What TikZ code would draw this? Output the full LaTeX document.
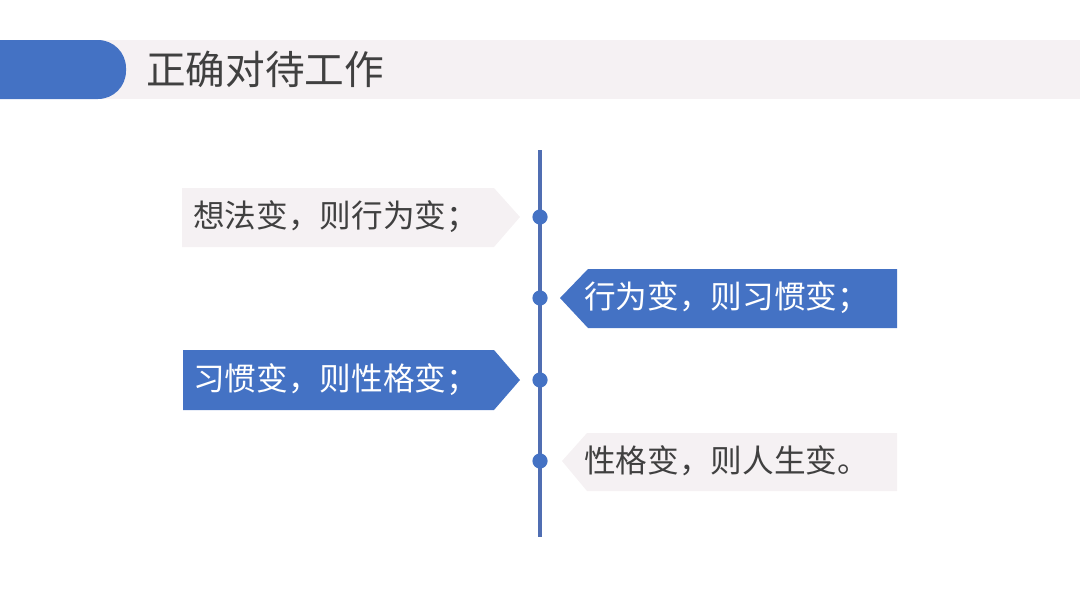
\documentclass[tikz,border=0pt]{standalone}
\usepackage{fontspec}
\setmainfont{Noto Sans CJK SC}
\usetikzlibrary{positioning}
\definecolor{tagblue}{RGB}{68,114,196}
\definecolor{linegray}{RGB}{80,110,178}
\definecolor{taggray}{RGB}{245,241,243}
\definecolor{txtgray}{RGB}{64,64,64}

\begin{document}
\begin{tikzpicture}[
  x=0.025cm, y=-0.025cm,
  bluetag/.style={fill=tagblue},
  graytag/.style={fill=taggray},
  tagtext/.style={anchor=west, inner sep=0pt, font=\fontsize{22.5}{26}\selectfont},
  dot/.style={circle, fill=tagblue, inner sep=0pt, minimum size=0.38cm},
  axis/.style={draw=linegray, line width=2.3pt}
]
  \useasboundingbox (0,0) rectangle (1080,608);

  % header band
  \fill[graytag] (0,40) rectangle (1080,99);
  \fill[bluetag] (0,40) [rounded corners=0.7cm] -- (126,40) -- (126,99) [sharp corners] -- (0,99) -- cycle;
  \node[anchor=west, inner sep=0pt, text=txtgray, font=\fontsize{28.2}{32}\selectfont] (title) at (146,69) {正确对待工作};

  % time line
  \coordinate (top) at (540,150);
  \coordinate (bot) at (540,537);
  \draw[axis] (top) -- (bot);
  \node[dot] (d1) at (540,217) {};
  \node[dot] (d2) at (540,298) {};
  \node[dot] (d3) at (540,380) {};
  \node[dot] (d4) at (540,461) {};

  % tags
  \fill[graytag] (182,188) -- (494,188) -- (520,217) -- (494,247) -- (182,247) -- cycle;
  \fill[bluetag] (897,269) -- (588,269) -- (560,298) -- (588,328) -- (897,328) -- cycle;
  \fill[bluetag] (183,350) -- (494,350) -- (520,380) -- (494,410) -- (183,410) -- cycle;
  \fill[graytag] (897,433) -- (587,433) -- (562,461) -- (587,491) -- (897,491) -- cycle;

  \node[tagtext, text=txtgray] (t1) at (193,217) {想法变，则行为变；};
  \node[tagtext, text=white]   (t2) at (584,298) {行为变，则习惯变；};
  \node[tagtext, text=white]   (t3) at (193,380) {习惯变，则性格变；};
  \node[tagtext, text=txtgray] (t4) at (584,461) {性格变，则人生变。};
\end{tikzpicture}
\end{document}
